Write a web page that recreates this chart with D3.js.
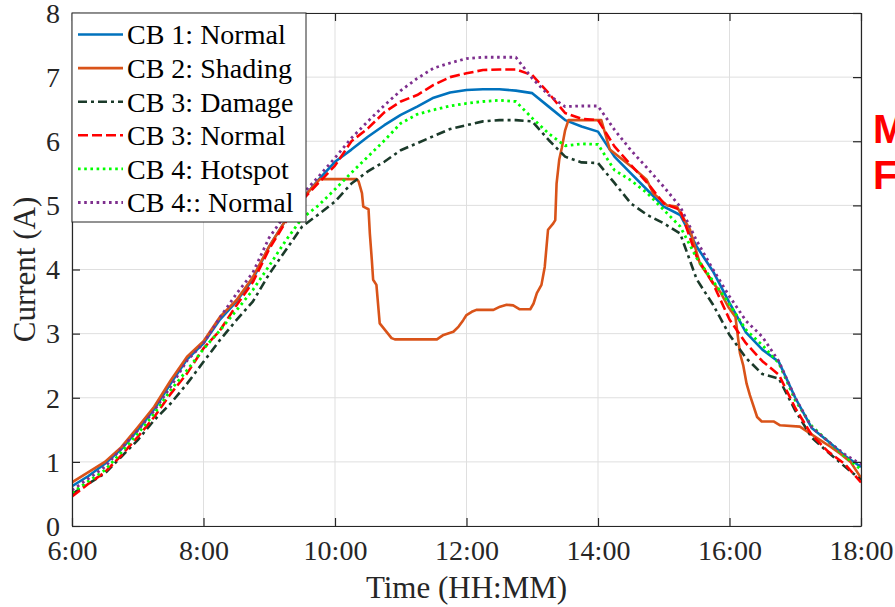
<!DOCTYPE html>
<html><head><meta charset="utf-8">
<script src="https://cdn.jsdelivr.net/npm/d3@7"></script>
<style>html,body{margin:0;padding:0;background:#fff;}svg{display:block;}</style>
</head><body>
<svg id="chart" width="895" height="607"></svg>
<script>
// ---------- data ----------
const hours = [6,6.25,6.5,6.75,7,7.25,7.5,7.75,8,8.25,8.5,8.75,9,9.25,9.5,9.75,10,10.25,10.5,10.75,11,11.25,11.5,11.75,12,12.25,12.5,12.75,13,13.25,13.5,13.75,14,14.25,14.5,14.75,15,15.25,15.5,15.75,16,16.25,16.5,16.75,17,17.25,17.5,17.75,18];
const cb1Normal = [0.62,0.78,0.97,1.20,1.50,1.82,2.22,2.60,2.85,3.22,3.50,3.85,4.36,4.77,5.10,5.40,5.68,5.87,6.07,6.25,6.41,6.54,6.68,6.76,6.80,6.81,6.81,6.79,6.75,6.54,6.33,6.23,6.15,5.76,5.50,5.24,4.98,4.85,4.36,3.97,3.48,3.02,2.75,2.56,2.00,1.53,1.32,1.10,0.92];
const cb3Damage = [0.50,0.66,0.82,1.08,1.34,1.65,1.91,2.22,2.56,2.90,3.21,3.50,3.93,4.30,4.67,4.86,5.06,5.34,5.53,5.68,5.86,5.97,6.08,6.19,6.25,6.31,6.33,6.33,6.31,6.02,5.76,5.67,5.66,5.35,5.03,4.85,4.72,4.56,3.85,3.45,2.98,2.62,2.37,2.30,1.80,1.38,1.15,0.93,0.72];
const cb3Normal = [0.46,0.66,0.84,1.10,1.39,1.70,2.06,2.38,2.77,3.05,3.44,3.80,4.32,4.74,5.08,5.35,5.62,6.00,6.20,6.45,6.62,6.72,6.88,7.00,7.06,7.11,7.12,7.12,7.03,6.75,6.44,6.35,6.33,5.92,5.63,5.35,5.03,4.93,4.20,3.78,3.22,2.85,2.57,2.36,1.84,1.42,1.16,0.97,0.68];
const cb4Hotspot = [0.52,0.70,0.87,1.15,1.44,1.75,2.12,2.43,2.76,3.05,3.36,3.68,4.06,4.45,4.80,5.00,5.25,5.51,5.76,6.01,6.28,6.42,6.49,6.55,6.59,6.62,6.64,6.62,6.36,6.12,5.93,5.96,5.95,5.55,5.39,5.19,4.93,4.67,4.18,3.82,3.46,3.06,2.82,2.54,1.96,1.56,1.32,1.09,0.88];
const cb4Normal = [0.56,0.74,0.92,1.21,1.49,1.80,2.17,2.58,2.85,3.25,3.62,3.95,4.50,4.86,5.17,5.45,5.74,6.05,6.31,6.56,6.79,6.98,7.14,7.22,7.29,7.31,7.31,7.31,6.98,6.72,6.54,6.55,6.55,6.18,5.86,5.58,5.29,4.98,4.45,4.00,3.58,3.20,2.95,2.57,2.00,1.54,1.32,1.12,0.96];
const shadingHours = [6,6.25,6.5,6.75,7,7.25,7.5,7.75,8,8.25,8.5,8.75,9,9.25,9.5,9.77,10.33,10.36,10.41,10.43,10.51,10.53,10.56,10.58,10.63,10.68,10.86,10.91,11.55,11.65,11.8,11.88,11.95,12,12.08,12.15,12.41,12.51,12.61,12.71,12.81,12.97,13.02,13.07,13.14,13.19,13.24,13.32,13.35,13.37,13.41,13.45,13.5,13.55,14.05,14.18,14.28,14.54,14.74,14.84,15.05,15.2,15.4,15.55,15.76,15.86,15.98,16.09,16.16,16.21,16.26,16.31,16.42,16.49,16.67,16.77,17.07,17.23,17.38,17.53,17.68,17.84,18];
const cb2Shading = [0.68,0.84,1.00,1.23,1.54,1.86,2.27,2.64,2.88,3.26,3.52,3.88,4.36,4.77,5.10,5.41,5.41,5.37,5.19,4.98,4.94,4.56,4.15,3.84,3.76,3.16,2.93,2.91,2.91,2.98,3.03,3.11,3.21,3.29,3.34,3.37,3.37,3.42,3.45,3.44,3.38,3.38,3.47,3.63,3.76,4.04,4.62,4.72,4.77,5.34,5.71,5.90,6.17,6.33,6.33,5.87,5.79,5.58,5.40,5.19,5.00,4.98,4.62,4.09,3.78,3.65,3.42,3.26,2.69,2.50,2.22,2.04,1.70,1.63,1.63,1.57,1.55,1.44,1.34,1.24,1.13,1.00,0.75];
const seriesNames = ["CB 1: Normal","CB 2: Shading","CB 3: Damage","CB 3: Normal","CB 4: Hotspot","CB 4:: Normal"];
const xTicks = [6,8,10,12,14,16,18];
const yTicks = [0,1,2,3,4,5,6,7,8];
const sideLabels = ["M","F"];

// ---------- styles ----------
const styles = [
  {color:"#0072BD", dash:null, width:2.6},
  {color:"#D95319", dash:null, width:2.6},
  {color:"#1B3A2A", dash:"9,4,3,4", width:2.6},
  {color:"#FF0000", dash:"10,4", width:2.6},
  {color:"#00FF00", dash:"2.6,3.6", width:2.8},
  {color:"#7E2F8E", dash:"2.6,3.6", width:2.8}
];
const series = [
  {x:hours, y:cb1Normal},
  {x:shadingHours, y:cb2Shading},
  {x:hours, y:cb3Damage},
  {x:hours, y:cb3Normal},
  {x:hours, y:cb4Hotspot},
  {x:hours, y:cb4Normal}
];

const svg = d3.select("#chart");
const L = 72, R = 861, T = 13, B = 526;
const x = d3.scaleLinear().domain([6,18]).range([L,R]);
const y = d3.scaleLinear().domain([0,8]).range([B,T]);
const serif = "'Liberation Serif','Times New Roman',serif";

svg.append("rect").attr("x",0).attr("y",0).attr("width",895).attr("height",607).attr("fill","#fff");

// grid
const grid = svg.append("g");
grid.selectAll("line.gx").data(xTicks).join("line")
  .attr("x1",d=>x(d)).attr("x2",d=>x(d)).attr("y1",T).attr("y2",B)
  .attr("stroke","#dfdfdf").attr("stroke-width",1);
grid.selectAll("line.gy").data(yTicks).join("line")
  .attr("x1",L).attr("x2",R).attr("y1",d=>y(d)).attr("y2",d=>y(d))
  .attr("stroke","#dfdfdf").attr("stroke-width",1);

// clip
svg.append("clipPath").attr("id","clip").append("rect")
  .attr("x",L).attr("y",T).attr("width",R-L).attr("height",B-T);

const line = d3.line().x(d=>x(d[0])).y(d=>y(d[1]));
const lines = svg.append("g").attr("clip-path","url(#clip)");
series.forEach((s,i)=>{
  const pts = s.x.map((t,j)=>[t,s.y[j]]);
  lines.append("path").datum(pts).attr("d",line)
    .attr("fill","none").attr("stroke",styles[i].color)
    .attr("stroke-width",styles[i].width)
    .attr("stroke-dasharray",styles[i].dash)
    .attr("stroke-linejoin","round");
});

// axes
const axisColor = "#262626";
const xAxis = d3.axisBottom(x).tickValues(xTicks).tickFormat(d=>d+":00").tickSizeInner(-8).tickSizeOuter(0).tickPadding(14);
const gx = svg.append("g").attr("transform",`translate(0,${B})`).call(xAxis);
const yAxis = d3.axisLeft(y).tickValues(yTicks).tickSizeInner(-8).tickSizeOuter(0).tickPadding(12);
const gy = svg.append("g").attr("transform",`translate(${L},0)`).call(yAxis);
const xTop = d3.axisTop(x).tickValues(xTicks).tickFormat("").tickSizeInner(-8).tickSizeOuter(0);
const gxt = svg.append("g").attr("transform",`translate(0,${T})`).call(xTop);
const yRight = d3.axisRight(y).tickValues(yTicks).tickFormat("").tickSizeInner(-8).tickSizeOuter(0);
const gyr = svg.append("g").attr("transform",`translate(${R},0)`).call(yRight);
[gx,gy,gxt,gyr].forEach(g=>{
  g.selectAll("path.domain").attr("stroke",axisColor).attr("stroke-width",1.2);
  g.selectAll(".tick line").attr("stroke",axisColor).attr("stroke-width",1.2);
  g.selectAll("text").attr("fill",axisColor).style("font-family",serif).style("font-size","28px");
});
gx.selectAll(".tick text").attr("dy","0.71em");
gy.selectAll(".tick text").attr("dy","0.33em");

// axis labels
svg.append("text").attr("x",(L+R)/2).attr("y",598).attr("text-anchor","middle")
  .style("font-family",serif).style("font-size","31px").attr("fill",axisColor).text("Time (HH:MM)");
svg.append("text").attr("transform",`translate(35,${(T+B)/2}) rotate(-90)`).attr("text-anchor","middle")
  .style("font-family",serif).style("font-size","31px").attr("fill",axisColor).text("Current (A)");

// legend
const lg = svg.append("g");
lg.append("rect").attr("x",L).attr("y",T).attr("width",306-L).attr("height",222-T)
  .attr("fill","#fff").attr("stroke",axisColor).attr("stroke-width",1);
seriesNames.forEach((name,i)=>{
  const cy = 34.5 + i*33.6;
  lg.append("line").attr("x1",78).attr("x2",123).attr("y1",cy).attr("y2",cy)
    .attr("stroke",styles[i].color).attr("stroke-width",styles[i].width)
    .attr("stroke-dasharray",styles[i].dash);
  lg.append("text").attr("x",127).attr("y",cy).attr("dy","0.35em")
    .style("font-family",serif).style("font-size","28px").attr("fill","#000").text(name);
});

// side labels (clipped at figure edge)
sideLabels.forEach((t,i)=>{
  svg.append("text").attr("x",873).attr("y",143+i*46)
    .style("font-family","'Liberation Sans',Arial,sans-serif").style("font-weight","bold")
    .style("font-size","40px").attr("fill","#FF0000").text(t);
});
</script>
</body></html>
